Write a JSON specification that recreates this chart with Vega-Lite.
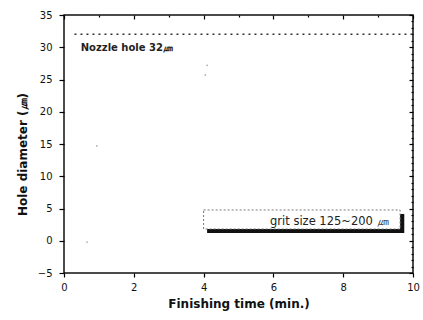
{
  "$schema": "https://vega.github.io/schema/vega-lite/v6.json",
  "width": 349,
  "height": 258,
  "autosize": {"type": "none"},
  "padding": {"left": 64, "top": 15, "right": 10, "bottom": 47},
  "background": "white",
  "config": {
    "view": {"stroke": "#111", "strokeWidth": 1.5},
    "font": "DejaVu Sans",
    "axis": {"grid": false, "domain": false, "ticks": true, "tickColor": "#000", "tickWidth": 1.2, "labelColor": "#111", "titleColor": "#111", "labelFont": "DejaVu Sans", "titleFont": "DejaVu Sans"}
  },
  "datasets": {
    "nozzle": [{"x": 0.3, "x2": 10, "y": 32}],
    "shadow": [{"x": 4.1, "x2": 9.75, "y": 4.15, "y2": 1.2}],
    "box": [{"x": 4.0, "x2": 9.63, "y": 4.77, "y2": 1.82}],
    "labels": [
      {"x": 0.48, "y": 29.4, "text": "Nozzle hole 32㎛"}
    ],
    "legend": [{"x": 9.3, "y": 2.5, "text": "grit size 125~200 ㎛"}],
    "specks": [
      {"x": 4.1, "y": 27.2},
      {"x": 4.05, "y": 25.7},
      {"x": 0.94, "y": 14.7},
      {"x": 0.66, "y": -0.2}
    ]
  },
  "resolve": {"axis": {"x": "independent", "y": "independent"}},
  "layer": [
    {
      "data": {"name": "nozzle"},
      "mark": {"type": "rule", "strokeDash": [2, 4], "strokeWidth": 1.5, "color": "#333"},
      "encoding": {
        "x": {"field": "x", "type": "quantitative", "scale": {"domain": [0, 10], "nice": false, "zero": false},
          "axis": {"orient": "bottom", "values": [0, 2, 4, 6, 8, 10], "tickSize": 4, "labelPadding": 5, "labelFontSize": 10, "labelFlush": false,
            "title": "Finishing time (min.)", "titleFontSize": 12, "titleFontWeight": "bold", "titlePadding": 6}},
        "x2": {"field": "x2"},
        "y": {"field": "y", "type": "quantitative", "scale": {"domain": [-5, 35], "nice": false, "zero": false},
          "axis": {"orient": "left", "values": [-5, 0, 5, 10, 15, 20, 25, 30, 35], "tickSize": 5, "labelPadding": 7, "labelFontSize": 10, "labelFlush": false,
            "title": "Hole diameter   (㎛)", "titleFontSize": 12, "titleFontWeight": "bold", "titleX": -42, "titleY": 139, "titleBaseline": "middle"}}
      }
    },
    {
      "data": {"name": "shadow"},
      "mark": {"type": "rect", "color": "#111"},
      "encoding": {
        "x": {"field": "x", "type": "quantitative", "axis": {"orient": "top", "values": [0, 2, 4, 6, 8, 10], "tickSize": 4, "offset": -4, "labels": false, "title": null}},
        "x2": {"field": "x2"},
        "y": {"field": "y", "type": "quantitative", "axis": {"orient": "right", "values": [-5, 0, 5, 10, 15, 20, 25, 30, 35], "tickSize": 4, "offset": -4, "labels": false, "title": null}},
        "y2": {"field": "y2"}
      }
    },
    {
      "data": {"name": "box"},
      "mark": {"type": "rect", "fill": "white", "stroke": "#777", "strokeDash": [2, 2], "strokeWidth": 1},
      "encoding": {
        "x": {"field": "x", "type": "quantitative", "axis": null},
        "x2": {"field": "x2"},
        "y": {"field": "y", "type": "quantitative", "axis": null},
        "y2": {"field": "y2"}
      }
    },
    {
      "data": {"name": "labels"},
      "mark": {"type": "text", "align": "left", "baseline": "alphabetic", "fontSize": 10, "fontWeight": "bold", "color": "#222"},
      "encoding": {
        "x": {"field": "x", "type": "quantitative", "axis": {"orient": "top", "values": [1, 3, 5, 7, 9], "tickSize": 2, "offset": -2, "labels": false, "title": null}},
        "y": {"field": "y", "type": "quantitative", "axis": {"orient": "right", "values": [-4, -3, -2, -1, 1, 2, 3, 4, 6, 7, 8, 9, 11, 12, 13, 14, 16, 17, 18, 19, 21, 22, 23, 24, 26, 27, 28, 29, 31, 32, 33, 34], "tickSize": 2, "offset": -2, "labels": false, "title": null}},
        "text": {"field": "text"}
      }
    },
    {
      "data": {"name": "legend"},
      "mark": {"type": "text", "align": "right", "baseline": "alphabetic", "fontSize": 11.5, "color": "#222"},
      "encoding": {
        "x": {"field": "x", "type": "quantitative", "axis": null},
        "y": {"field": "y", "type": "quantitative", "axis": null},
        "text": {"field": "text"}
      }
    },
    {
      "data": {"name": "specks"},
      "mark": {"type": "point", "filled": true, "size": 3, "color": "#888"},
      "encoding": {
        "x": {"field": "x", "type": "quantitative", "axis": null},
        "y": {"field": "y", "type": "quantitative", "axis": null}
      }
    }
  ]
}
